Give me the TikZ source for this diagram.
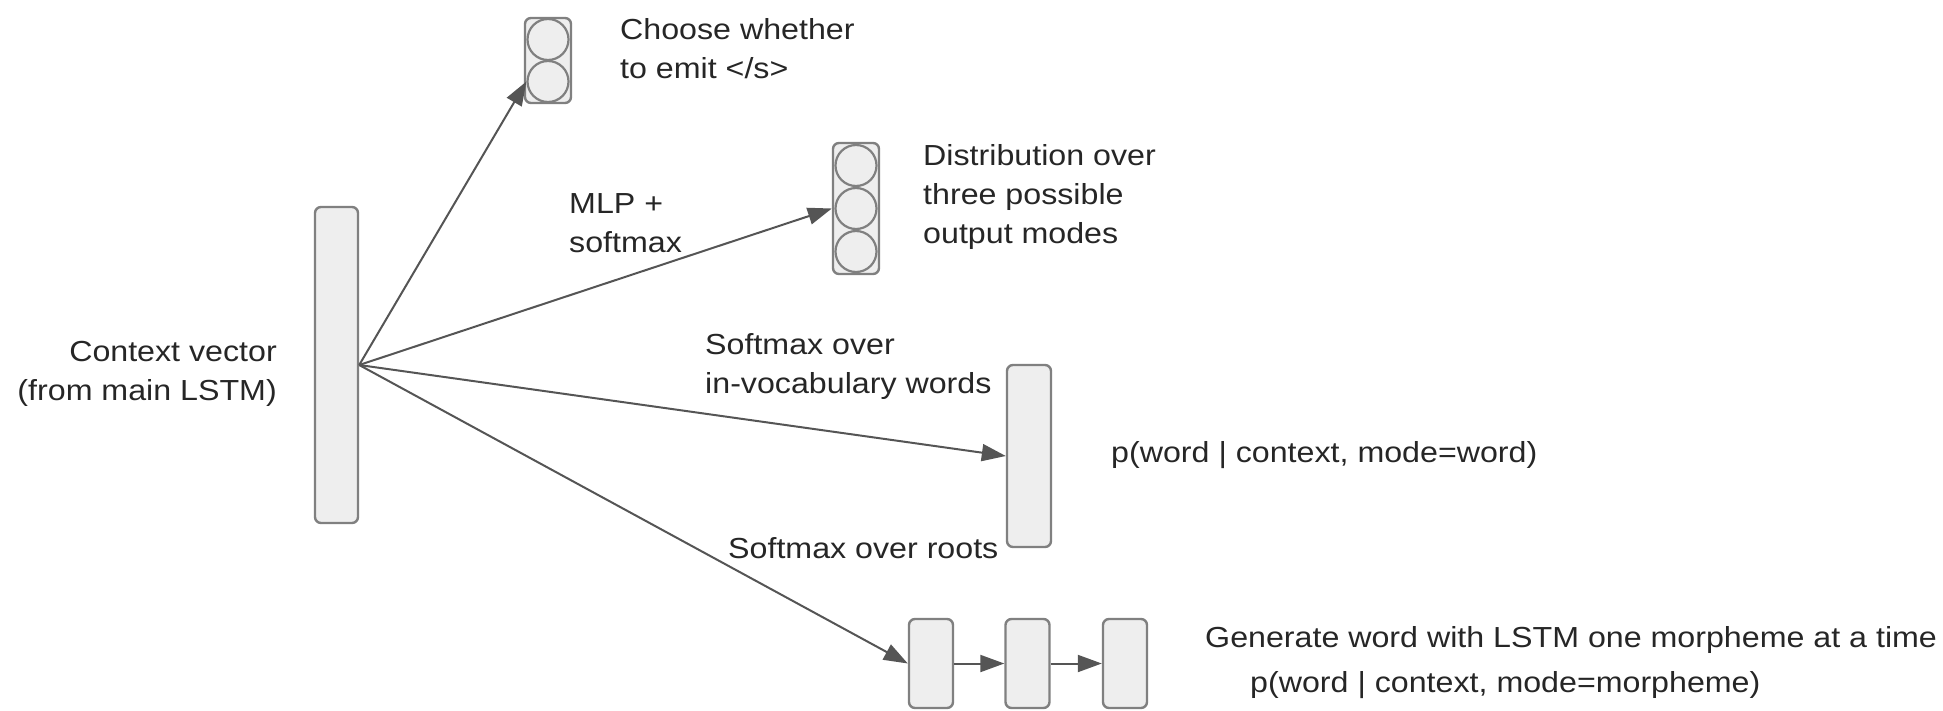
\documentclass[tikz,border=0pt]{standalone}
\usepackage{fontspec}
\setmainfont{Liberation Sans}
\newfontfamily\lblfont[FakeStretch=1.11]{Liberation Sans}
\usetikzlibrary{arrows.meta}
\definecolor{boxfill}{HTML}{EEEEEE}
\definecolor{boxline}{HTML}{808080}
\definecolor{arrowcol}{HTML}{555555}
\definecolor{txt}{HTML}{262626}
\tikzset{
  vecbox/.style={draw=boxline, fill=boxfill, line width=2.4pt, rounded corners=6pt, inner sep=0pt, minimum width=#1},
  vecbox/.default=44pt,
  unit/.style={draw=boxline, fill=boxfill, line width=2.2pt, circle, inner sep=0pt, minimum size=41pt},
  conn/.style={draw=arrowcol, line width=2pt, -{Triangle[length=24pt,width=17pt]}},
  lbl/.style={font=\lblfont\fontsize{29}{39}\selectfont, text=txt, inner sep=0pt, anchor=base west, align=left}
}
\begin{document}
\begin{tikzpicture}[x=1pt,y=-1pt]
\useasboundingbox (0,0) rectangle (1943,710);
% context vector
\node[vecbox=43pt, minimum height=316pt] (ctx) at (336.5,365) {};
\node[lbl, anchor=base east, align=right] (ctxlbl) at (277,400) {Context vector\\(from main LSTM)};
% emit box
\node[vecbox=46pt, minimum height=85pt] (emit) at (548,60.5) {};
\node[unit] (emit1) at (548,39.5) {};
\node[unit] (emit2) at (548,81.5) {};
\node[lbl] (emitlbl) at (620,78) {Choose whether\\to emit </s>};
% modes box
\node[vecbox=46pt, minimum height=131pt] (modes) at (856,208.5) {};
\node[unit] (mode1) at (856,165.5) {};
\node[unit] (mode2) at (856,208.5) {};
\node[unit] (mode3) at (856,251.5) {};
\node[lbl] (modeslbl) at (923,243) {Distribution over\\three possible\\output modes};
\node[lbl] (mlplbl) at (569,252) {MLP +\\softmax};
% word bar
\node[vecbox=44pt, minimum height=182pt] (word) at (1029,456) {};
\node[lbl] (wordsm) at (705,393) {Softmax over\\in-vocabulary words};
\node[lbl] (wordp) at (1111,462) {p(word | context, mode=word)};
% morpheme LSTM
\node[vecbox=44pt, minimum height=89pt] (m1) at (931,663.5) {};
\node[vecbox=44pt, minimum height=89pt] (m2) at (1027.5,663.5) {};
\node[vecbox=44pt, minimum height=89pt] (m3) at (1125,663.5) {};
\node[lbl] (rootsm) at (728,558) {Softmax over roots};
\node[lbl] (genlbl) at (1205,647) {Generate word with LSTM one morpheme at a time};
\node[lbl] (morphp) at (1250,692) {p(word | context, mode=morpheme)};
% connectors
\draw[conn] (ctx.east) -- (emit2.west);
\draw[conn] (ctx.east) -- (modes.west);
\draw[conn] (ctx.east) -- (word.west);
\draw[conn] (ctx.east) -- (m1.west);
\draw[conn] (m1.east) -- (m2.west);
\draw[conn] (m2.east) -- (m3.west);
\end{tikzpicture}
\end{document}
